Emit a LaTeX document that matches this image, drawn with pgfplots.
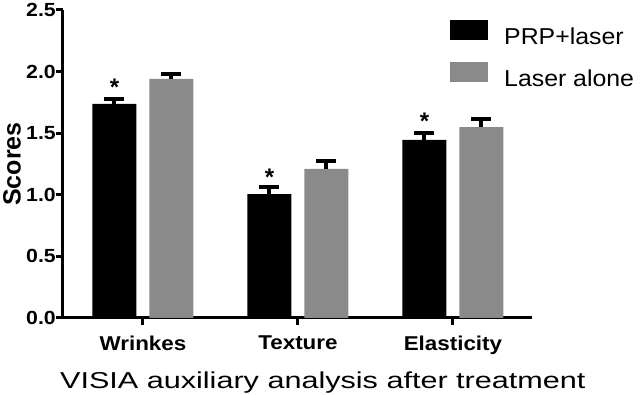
\documentclass[border=0pt]{standalone}
\usepackage{fontspec}
\setmainfont{Liberation Sans}
\newfontfamily\tickfont[FakeStretch=1.12]{Liberation Sans}
\newfontfamily\legfont[FakeStretch=1.08]{Liberation Sans}
\newfontfamily\labfont[FakeStretch=1.33]{Liberation Sans}
\usepackage{pgfplots}
\pgfplotsset{compat=1.18}
\definecolor{bargray}{HTML}{8A8A8A}
\begin{document}
\begin{tikzpicture}
\begin{axis}[
  at={(63pt,77pt)}, anchor=south west,
  scale only axis, width=469pt, height=308pt,
  xmin=-0.516, xmax=2.51, ymin=0, ymax=2.5,
  axis x line*=bottom, axis y line*=left,
  axis line style={line width=3pt, -},
  tick align=outside, major tick length=7pt,
  tick style={line width=3pt, black},
  ytick={0,0.5,1,1.5,2,2.5},
  xtick={0,1,2}, xticklabels={Wrinkes,Texture,Elasticity},
  /pgf/number format/assume math mode=true,
  yticklabel style={font=\tickfont\bfseries\fontsize{19}{22}\selectfont, inner sep=0pt,
    /pgf/number format/fixed, /pgf/number format/fixed zerofill, /pgf/number format/precision=1},
  xticklabel style={font=\tickfont\bfseries\fontsize{20}{24}\selectfont, inner sep=0pt, anchor=north, yshift=-11pt},
  ylabel={Scores},
  ylabel style={font=\bfseries\fontsize{25}{28}\selectfont, at={(axis description cs:-0.1087,0.5)}, anchor=center, inner sep=0pt},
  xlabel={VISIA auxiliary analysis after treatment},
  xlabel style={font=\labfont\fontsize{23}{26}\selectfont, at={(axis description cs:0.554,0)}, anchor=base, yshift=-71pt, inner sep=0pt},
  ybar, bar width=44pt,
  legend image code/.code={\fill[#1] (0pt,-3pt) rectangle (38pt,17pt); \path (54pt,0pt);},
  legend style={at={(rel axis cs:0.8252,0.9675)}, anchor=north west, draw=none, fill=none,
    inner sep=0pt, row sep=16pt, column sep=0pt,
    nodes={inner sep=0pt, font=\legfont\fontsize{23}{26}\selectfont}},
  legend cell align=left,
  clip=false,
]
\addplot[fill=black, draw=none, bar shift=-28.5pt,
  error bars/.cd, y dir=plus, y explicit, error mark=|,
  error bar style={draw=black, line width=4pt},
  error mark options={draw=black, line width=4pt, mark size=10pt}]
  coordinates {(0,1.737) +- (0,0.04) (1,1.006) +- (0,0.057) (2,1.445) +- (0,0.057)};
\addlegendentry{PRP+laser}
\addplot[fill=bargray, draw=none, bar shift=28.5pt,
  error bars/.cd, y dir=plus, y explicit, error mark=|,
  error bar style={draw=black, line width=4pt},
  error mark options={draw=black, line width=4pt, mark size=10pt}]
  coordinates {(0,1.94) +- (0,0.04) (1,1.21) +- (0,0.065) (2,1.55) +- (0,0.065)};
\addlegendentry{Laser alone}
\node[anchor=north, inner sep=0pt, font=\bfseries\fontsize{24}{26}\selectfont] at (axis cs:-0.184,1.94) {*};
\node[anchor=north, inner sep=0pt, font=\bfseries\fontsize{24}{26}\selectfont] at (axis cs:0.816,1.21) {*};
\node[anchor=north, inner sep=0pt, font=\bfseries\fontsize{24}{26}\selectfont] at (axis cs:1.816,1.664) {*};
\end{axis}
\pgfresetboundingbox
\useasboundingbox (0pt,0pt) rectangle (640pt,395pt);
\end{tikzpicture}
\end{document}
